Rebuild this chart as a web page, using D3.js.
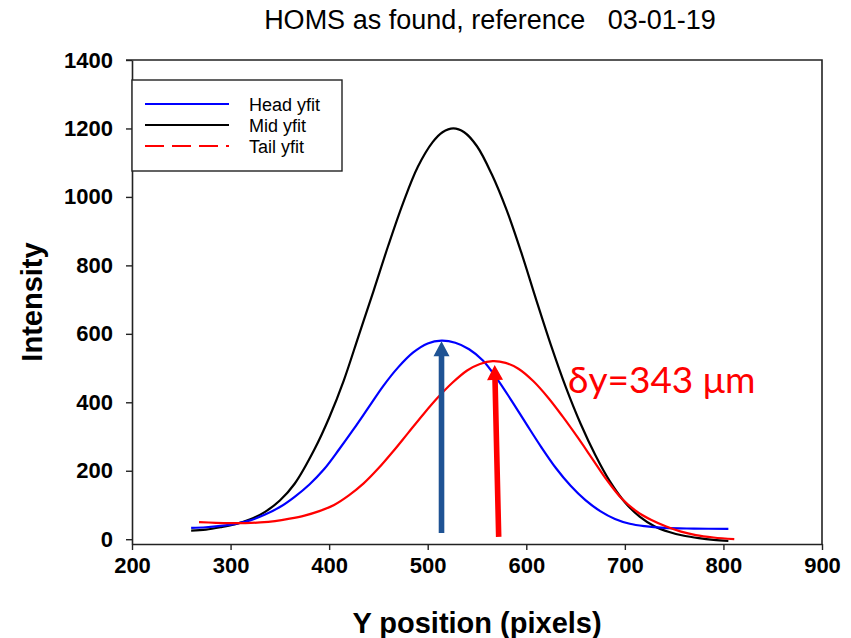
<!DOCTYPE html>
<html>
<head>
<meta charset="utf-8">
<script src="https://cdn.jsdelivr.net/npm/d3@7"></script>
<style>
  body { margin: 0; background: #fff; }
  svg { display: block; }
</style>
</head>
<body>
<div id="chart"></div>
<script>
// fitted profiles: [Y position, intensity]
const headYfit = [[260,33],[275,35],[290,39],[305,45],[320,55],[335,72],[350,94],[365,124],[380,160],[395,205],[410,262],[425,322],[440,385],[455,448],[470,502],[485,545],[500,572],[514,580],[528,574],[542,555],[556,522],[570,470],[585,405],[600,337],[615,270],[630,208],[645,156],[660,114],[675,82],[690,59],[705,45],[720,38],[740,33],[770,31],[805,30]];
const midYfit = [[260,25],[275,28],[290,35],[305,44],[320,58],[335,80],[350,113],[365,162],[385,262],[400,355],[415,465],[430,595],[445,725],[460,858],[475,982],[490,1088],[505,1160],[515,1189],[526,1200],[537,1189],[550,1148],[565,1066],[580,962],[595,837],[610,700],[625,567],[640,445],[655,338],[670,246],[685,168],[700,108],[715,66],[730,38],[745,21],[760,10],[775,3],[790,-2],[805,-5]];
const tailYfit = [[268,50],[285,48],[300,47],[315,47],[330,49],[345,53],[360,60],[375,69],[390,82],[405,100],[420,128],[435,163],[450,207],[465,257],[480,310],[495,363],[510,413],[525,457],[540,493],[553,512],[566,520],[579,515],[592,498],[607,462],[622,414],[637,358],[652,298],[667,235],[682,172],[697,118],[712,81],[727,56],[742,37],[757,22],[772,12],[790,5],[811,0]];

const seriesNames = ["Head yfit", "Mid yfit", "Tail yfit"];
const xTicks = [200, 300, 400, 500, 600, 700, 800, 900];
const yTicks = [0, 200, 400, 600, 800, 1000, 1200, 1400];

// peak markers: [x at base, y start, y end]
const headArrow = [514, 18, 578];
const tailArrow = [572, 7, 509];
const shiftLabel = "δy=343 μm";

const W = 851, H = 638;
const plot = { left: 132, right: 822, top: 60, bottom: 544 };
const font = "Liberation Sans, Arial, sans-serif";

const svg = d3.select("#chart").append("svg")
  .attr("width", W).attr("height", H);

const x = d3.scaleLinear().domain([200, 900]).range([plot.left, plot.right]);
const y = d3.scaleLinear().domain([-14, 1400]).range([plot.bottom, plot.top]);

// title
svg.append("text")
  .attr("x", 490).attr("y", 29)
  .attr("text-anchor", "middle")
  .style("font-family", font)
  .style("font-size", "27px")
  .style("white-space", "pre")
  .text("HOMS as found, reference   03-01-19");

// axes
const xAxis = svg.append("g")
  .attr("transform", `translate(0,${plot.bottom})`)
  .call(d3.axisBottom(x).tickValues(xTicks).tickSize(6).tickPadding(7).tickSizeOuter(0));
const yAxis = svg.append("g")
  .attr("transform", `translate(${plot.left},0)`)
  .call(d3.axisLeft(y).tickValues(yTicks).tickFormat(d3.format("d"))
    .tickSize(6).tickPadding(13).tickSizeOuter(0));

[xAxis, yAxis].forEach(g => {
  g.select(".domain").attr("stroke", "#222").attr("stroke-width", 1.6);
  g.selectAll(".tick line").attr("stroke", "#222").attr("stroke-width", 1.4);
  g.selectAll("text")
    .style("font-family", font)
    .style("font-weight", "bold")
    .style("font-size", "22px")
    .attr("fill", "#000");
});

// frame top and right
svg.append("path")
  .attr("d", `M${plot.left},${plot.top}H${plot.right}V${plot.bottom}`)
  .attr("fill", "none").attr("stroke", "#222").attr("stroke-width", 1.6);
svg.append("line")
  .attr("x1", plot.left - 6).attr("x2", plot.left)
  .attr("y1", plot.top).attr("y2", plot.top)
  .attr("stroke", "#222").attr("stroke-width", 1.4);

// axis titles
svg.append("text")
  .attr("x", 477).attr("y", 633)
  .attr("text-anchor", "middle")
  .style("font-family", font)
  .style("font-weight", "bold").style("font-size", "29px")
  .text("Y position (pixels)");
svg.append("text")
  .attr("transform", "translate(42,302) rotate(-90)")
  .attr("text-anchor", "middle")
  .style("font-family", font)
  .style("font-weight", "bold").style("font-size", "29px")
  .text("Intensity");

// curves
const line = d3.line()
  .x(d => x(d[0]))
  .y(d => y(d[1]))
  .curve(d3.curveCatmullRom.alpha(0.5));

const curves = [
  { data: midYfit, color: "#000000" },
  { data: headYfit, color: "#0000ff" },
  { data: tailYfit, color: "#ff0000" }
];
curves.forEach(c => {
  svg.append("path")
    .datum(c.data)
    .attr("d", line)
    .attr("fill", "none")
    .attr("stroke", c.color)
    .attr("stroke-width", 2.2);
});

// legend
const legend = svg.append("g");
legend.append("rect")
  .attr("x", plot.left).attr("y", 80)
  .attr("width", 210).attr("height", 91)
  .attr("fill", "#fff").attr("stroke", "#222").attr("stroke-width", 1.4);
const legendItems = [
  { name: seriesNames[0], color: "#0000ff", dash: null },
  { name: seriesNames[1], color: "#000000", dash: null },
  { name: seriesNames[2], color: "#ff0000", dash: "19,8" }
];
legendItems.forEach((d, i) => {
  const ly = 104 + i * 21;
  legend.append("line")
    .attr("x1", 145).attr("x2", 229)
    .attr("y1", ly).attr("y2", ly)
    .attr("stroke", d.color).attr("stroke-width", 2.2)
    .attr("stroke-dasharray", d.dash);
  legend.append("text")
    .attr("x", 249).attr("y", ly + 7)
    .style("font-family", font)
    .style("font-size", "18px")
    .text(d.name);
});

// peak arrows, drawn as a shaft with a triangular head
function arrow(a, lean, color) {
  const xb = x(a[0]), yb = y(a[1]), yt = y(a[2]);
  const len = Math.hypot(lean, yb - yt);
  const angle = Math.atan2(lean, yb - yt) * 180 / Math.PI;
  const shaft = 2.8, head = 8, headLen = 15, top = yb - len;
  const p = [
    [xb - shaft, yb], [xb - shaft, top + headLen], [xb - head, top + headLen],
    [xb, top], [xb + head, top + headLen], [xb + shaft, top + headLen], [xb + shaft, yb]
  ];
  svg.append("path")
    .attr("transform", `rotate(${angle},${xb},${yb})`)
    .attr("d", "M" + p.map(q => q.join(",")).join("L") + "Z")
    .attr("fill", color);
}
arrow(headArrow, 0, "#1f5394");
arrow(tailArrow, -4, "#ff0000");

// shift annotation
svg.append("text")
  .attr("x", 568).attr("y", 393)
  .style("font-family", "Lato, Open Sans, sans-serif")
  .style("font-size", "37px")
  .attr("fill", "#ff0000")
  .text(shiftLabel);
</script>
</body>
</html>
